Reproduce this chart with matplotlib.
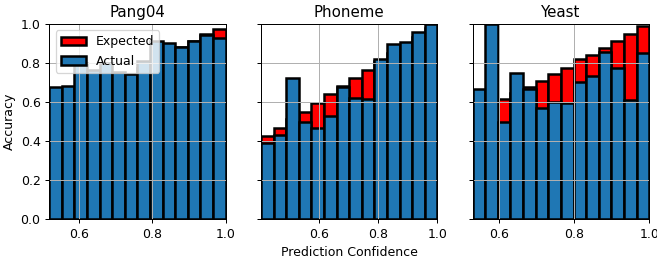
import numpy as np
import matplotlib
matplotlib.use("Agg")
import matplotlib.pyplot as plt

# datasets and per-bin values (14 bins from min confidence up to 1.0)
names = ["Pang04", "Phoneme", "Yeast"]
min_conf = [0.519, 0.406, 0.529]

pang_actual = [0.675, 0.684, 0.798, 0.764, 0.80, 0.752, 0.744, 0.81, 0.915, 0.904, 0.884, 0.911, 0.944, 0.927]
pang_expected = [0.536, 0.571, 0.605, 0.639, 0.674, 0.708, 0.742, 0.777, 0.811, 0.846, 0.880, 0.914, 0.949, 0.973]

phon_actual = [0.388, 0.432, 0.723, 0.499, 0.468, 0.528, 0.679, 0.619, 0.614, 0.819, 0.897, 0.908, 0.959, 1.0]
phon_expected = [0.426, 0.468, 0.512, 0.550, 0.593, 0.639, 0.680, 0.723, 0.764, 0.809, 0.852, 0.894, 0.936, 0.979]

yeast_actual = [0.665, 1.0, 0.499, 0.747, 0.665, 0.571, 0.598, 0.593, 0.701, 0.733, 0.855, 0.773, 0.610, 0.850]
yeast_expected = [0.546, 0.580, 0.614, 0.647, 0.679, 0.709, 0.742, 0.773, 0.819, 0.841, 0.879, 0.913, 0.949, 0.99]

actual = [pang_actual, phon_actual, yeast_actual]
expected = [pang_expected, phon_expected, yeast_expected]

fig, axes = plt.subplots(1, 3, sharey=True, figsize=(657 / 90, 259 / 90), dpi=90)
plt.subplots_adjust(left=0.075, right=0.988, top=0.907, bottom=0.154, wspace=0.2)

for ax, name, lo, act, exp in zip(axes, names, min_conf, actual, expected):
    edges = np.linspace(lo, 1.0, len(act) + 1)
    width = edges[1] - edges[0]
    ax.bar(edges[:-1], exp, width=width, align="edge", color="red",
           edgecolor="black", linewidth=2, label="Expected")
    ax.bar(edges[:-1], act, width=width, align="edge", color="#1f77b4",
           edgecolor="black", linewidth=2, label="Actual")
    ax.set_xlim(lo, 1.0)
    ax.set_ylim(0, 1.0)
    ax.set_xticks([0.6, 0.8, 1.0])
    ax.set_title(name)
    ax.grid(True)

axes[0].set_ylabel("Accuracy")
axes[0].legend(loc="upper left")
axes[1].set_xlabel("Prediction Confidence")

fig.savefig("out.png", dpi=90)
